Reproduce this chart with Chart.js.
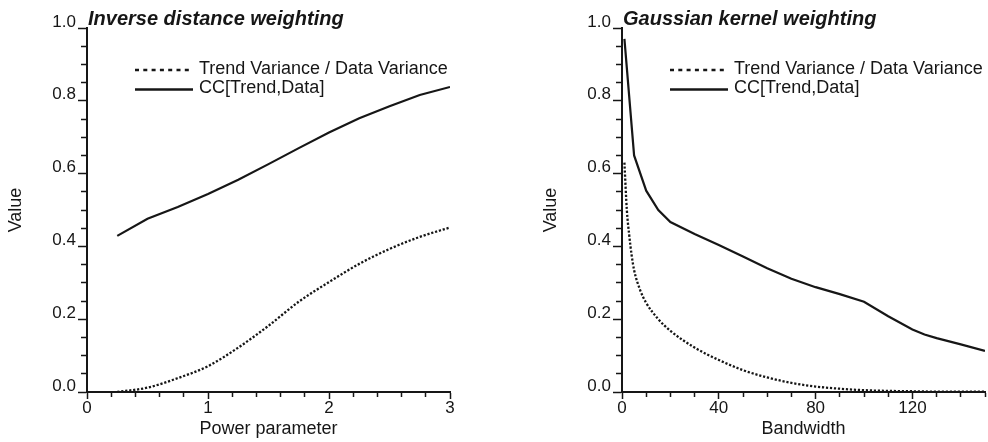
<!DOCTYPE html>
<html><head><meta charset="utf-8">
<script src="https://cdn.jsdelivr.net/npm/chart.js@4.4.1/dist/chart.umd.min.js"></script>
<style>
html,body{margin:0;padding:0;background:#fff;}
body{width:988px;height:442px;position:relative;overflow:hidden;}
canvas{position:absolute;top:0;}
#c1{left:0;} #c2{left:535px;}
</style></head><body>
<canvas id="c1" width="470" height="442"></canvas>
<canvas id="c2" width="453" height="442"></canvas>
<script>
// ---- data ----
const idwPower = [0.25, 0.5, 0.75, 1.0, 1.25, 1.5, 1.75, 2.0, 2.25, 2.5, 2.75, 3.0];
const idwVarianceRatio = [0.000, 0.012, 0.038, 0.071, 0.122, 0.182, 0.248, 0.302, 0.352, 0.393, 0.426, 0.452];
const idwCorrelation = [0.429, 0.476, 0.508, 0.544, 0.583, 0.626, 0.670, 0.713, 0.752, 0.785, 0.816, 0.838];

const gkBandwidthVR = [1, 2, 3, 4, 5, 7.5, 10, 15, 20, 30, 40, 50, 60, 70, 80, 90, 100, 110, 120, 130, 140, 150];
const gkVarianceRatio = [0.63, 0.50, 0.43, 0.375, 0.335, 0.28, 0.245, 0.20, 0.168, 0.122, 0.088, 0.060, 0.040, 0.025, 0.015, 0.009, 0.005, 0.003, 0.002, 0.001, 0.001, 0.001];
const gkBandwidthCC = [1, 5, 10, 15, 20, 30, 40, 50, 60, 70, 80, 90, 100, 110, 120, 125, 130, 140, 150];
const gkCorrelation = [0.97, 0.65, 0.553, 0.50, 0.467, 0.434, 0.404, 0.372, 0.340, 0.311, 0.288, 0.269, 0.248, 0.208, 0.172, 0.158, 0.148, 0.131, 0.113];

const seriesLabels = ['Trend Variance / Data Variance', 'CC[Trend,Data]'];
const chartTitles = ['Inverse distance weighting', 'Gaussian kernel weighting'];
const xTitles = ['Power parameter', 'Bandwidth'];
const yTitle = 'Value';

// ---- rendering ----
const INK = '#161616';
const FAMILY = "'Liberation Sans', Arial, Helvetica, sans-serif";
Chart.defaults.font.family = FAMILY;
Chart.defaults.color = INK;

const pairs = (xs, ys) => xs.map((x, i) => ({x: x, y: ys[i]}));

const cornerTitle = {
  id: 'cornerTitle',
  afterDraw(chart, args, opts) {
    const {ctx, chartArea} = chart;
    ctx.save();
    ctx.font = "italic bold 20px " + FAMILY;
    ctx.fillStyle = INK;
    ctx.textAlign = 'left';
    ctx.textBaseline = 'alphabetic';
    ctx.fillText(opts.text, chartArea.left + 1, chartArea.top - 3);
    ctx.restore();
  }
};

const insideLegend = {
  id: 'insideLegend',
  afterDraw(chart, args, opts) {
    const {ctx, chartArea} = chart;
    ctx.save();
    ctx.font = "18px " + FAMILY;
    chart.data.datasets.forEach((ds, i) => {
      const y = chartArea.top + opts.top + i * opts.rowGap;
      const x0 = chartArea.left + opts.left;
      ctx.beginPath();
      ctx.setLineDash(ds.legendDash || []);
      ctx.lineWidth = 2.5;
      ctx.strokeStyle = ds.borderColor;
      ctx.moveTo(x0, y);
      ctx.lineTo(x0 + opts.lineLength, y);
      ctx.stroke();
      ctx.setLineDash([]);
      ctx.fillStyle = INK;
      ctx.textAlign = 'left';
      ctx.textBaseline = 'alphabetic';
      ctx.fillText(ds.label, x0 + opts.lineLength + 6, y + 3.5);
    });
    ctx.restore();
  }
};

function makeChart(id, title, xTitle, xMax, xStep, xMajor, dsVR, dsCC, padRight) {
  const isMajorX = v => Math.abs(v / xMajor - Math.round(v / xMajor)) < 1e-6;
  const isMajorY = v => Math.abs(v * 5 - Math.round(v * 5)) < 1e-6;
  return new Chart(document.getElementById(id), {
    type: 'line',
    data: {
      datasets: [
        {label: seriesLabels[0], data: dsVR, borderColor: INK, borderWidth: 2.3, borderDash: [2.2, 1.8],
         legendDash: [4, 4.3], pointRadius: 0, fill: false, cubicInterpolationMode: 'monotone'},
        {label: seriesLabels[1], data: dsCC, borderColor: INK, borderWidth: 2.2,
         pointRadius: 0, fill: false, tension: 0}
      ]
    },
    options: {
      responsive: false,
      animation: false,
      events: [],
      layout: {padding: {top: 28, right: padRight, left: 0, bottom: 0}},
      plugins: {
        legend: {display: false},
        tooltip: {enabled: false},
        cornerTitle: {text: title},
        insideLegend: {top: 42, rowGap: 19.5, left: 48, lineLength: 58}
      },
      scales: {
        x: {
          type: 'linear', min: 0, max: xMax,
          afterFit: s => { s.height = 50; },
          border: {display: true, color: INK, width: 2},
          grid: {display: true, drawOnChartArea: false, drawTicks: true, tickLength: 7,
                 tickColor: INK, tickWidth: 1.5,
                 tickBorderDash: c => (c.tick && !isMajorX(c.tick.value)) ? [4, 20] : []},
          ticks: {stepSize: xStep, autoSkip: false, maxRotation: 0, padding: 1, maxTicksLimit: 200,
                  font: {size: 17, lineHeight: 1}, color: INK,
                  callback: v => isMajorX(v) ? String(Math.round(v)) : ''},
          title: {display: true, text: xTitle, color: INK, font: {size: 18, lineHeight: 1},
                  padding: {top: 0, bottom: 3.5}}
        },
        y: {
          type: 'linear', min: 0, max: 1,
          afterFit: s => { s.width = 87; },
          border: {display: true, color: INK, width: 2},
          grid: {display: true, drawOnChartArea: false, drawTicks: true, tickLength: 9,
                 tickColor: INK, tickWidth: 1.5,
                 tickBorderDash: c => (c.tick && !isMajorY(c.tick.value)) ? [0, 3, 5, 20] : []},
          ticks: {stepSize: 0.05, autoSkip: false, padding: 2, labelOffset: -6, maxTicksLimit: 200,
                  font: {size: 17, lineHeight: 1}, color: INK,
                  callback: v => isMajorY(v) ? v.toFixed(1) : ''},
          title: {display: true, text: yTitle, color: INK, font: {size: 18, lineHeight: 1},
                  padding: {top: 7.5, bottom: 0}}
        }
      }
    },
    plugins: [cornerTitle, insideLegend]
  });
}

makeChart('c1', chartTitles[0], xTitles[0], 3, 0.2, 1,
  pairs(idwPower, idwVarianceRatio), pairs(idwPower, idwCorrelation), 20);
makeChart('c2', chartTitles[1], xTitles[1], 150, 10, 40,
  pairs(gkBandwidthVR, gkVarianceRatio), pairs(gkBandwidthCC, gkCorrelation), 3);
</script>
</body></html>
